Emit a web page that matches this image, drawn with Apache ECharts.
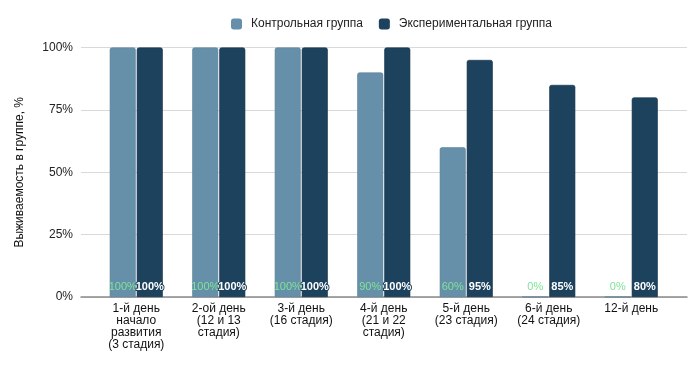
<!DOCTYPE html>
<html><head><meta charset="utf-8">
<script src="https://cdn.jsdelivr.net/npm/echarts@6/dist/echarts.min.js"></script>
<style>html,body{margin:0;padding:0;background:#fff}#c{width:700px;height:369px}</style>
</head><body><div id="c"></div>
<script>
const categories = [
  "1-й день\nначало\nразвития\n(3 стадия)",
  "2-ой день\n(12 и 13\nстадия)",
  "3-й день\n(16 стадия)",
  "4-й день\n(21 и 22\nстадия)",
  "5-й день\n(23 стадия)",
  "6-й день\n(24 стадия)",
  "12-й день"
];
const controlValues = [100, 100, 100, 90, 60, 0, 0];
const experimentalValues = [100, 100, 100, 100, 95, 85, 80];
const seriesNames = ["Контрольная группа", "Экспериментальная группа"];
const yTicks = [0, 25, 50, 75, 100];

const font = "Liberation Sans, Arial, sans-serif";
const chart = echarts.init(document.getElementById('c'));
chart.setOption({
  animation: false,
  textStyle: { fontFamily: font },
  legend: {
    top: 13, left: 226,
    itemWidth: 11, itemHeight: 11, itemGap: 16,
    itemStyle: { borderWidth: 0 },
    textStyle: { fontSize: 12, color: '#222', fontFamily: font, padding: [0, 0, 0, 4] },
    data: seriesNames
  },
  grid: [
    { left: 81, right: 13, top: 47.5, bottom: 72 },
    { left: 95, right: 27.5, top: 47.5, bottom: 72 }
  ],
  xAxis: [
    {
      gridIndex: 0, type: 'category', data: categories,
      axisTick: { show: false },
      axisLabel: { show: false },
      axisLine: { lineStyle: { color: '#8a8a8a', width: 1.5 } }
    },
    {
      gridIndex: 1, type: 'category', data: categories,
      axisTick: { show: false },
      axisLine: { show: false },
      axisLabel: { color: '#111', fontSize: 12, lineHeight: 12, margin: 6, interval: 0, fontFamily: font }
    }
  ],
  yAxis: [
    {
      gridIndex: 0, type: 'value', min: yTicks[0], max: yTicks[yTicks.length - 1], interval: 25,
      name: "Выживаемость в группе, %", nameLocation: 'middle', nameGap: 55,
      nameTextStyle: { fontSize: 12, color: '#111', fontFamily: font },
      axisLabel: { formatter: '{value}%', color: '#222', fontSize: 12, margin: 8, fontFamily: font },
      splitLine: { lineStyle: { color: '#d9d9d9' } }
    },
    {
      gridIndex: 1, type: 'value', min: yTicks[0], max: yTicks[yTicks.length - 1], interval: 25,
      show: false, splitLine: { show: false }
    }
  ],
  series: [
    {
      name: seriesNames[0], type: 'bar', data: controlValues,
      xAxisIndex: 1, yAxisIndex: 1,
      barWidth: 26, barGap: '4%',
      itemStyle: { color: '#6690a9', borderColor: '#5a819a', borderWidth: 0.6, borderRadius: [2, 2, 0, 0] },
      label: { show: true, position: 'insideBottom', distance: 5, formatter: '{c}%', color: '#7ee397', fontSize: 11, fontFamily: font }
    },
    {
      name: seriesNames[1], type: 'bar', data: experimentalValues,
      xAxisIndex: 1, yAxisIndex: 1,
      barWidth: 26,
      itemStyle: { color: '#1d425e', borderColor: '#133047', borderWidth: 0.6, borderRadius: [2, 2, 0, 0] },
      label: { show: true, position: 'insideBottom', distance: 5, formatter: '{c}%', color: '#fff', fontSize: 11, fontWeight: 'bold', textBorderColor: '#1d425e', textBorderWidth: 2, fontFamily: font }
    }
  ]
});
</script></body></html>
